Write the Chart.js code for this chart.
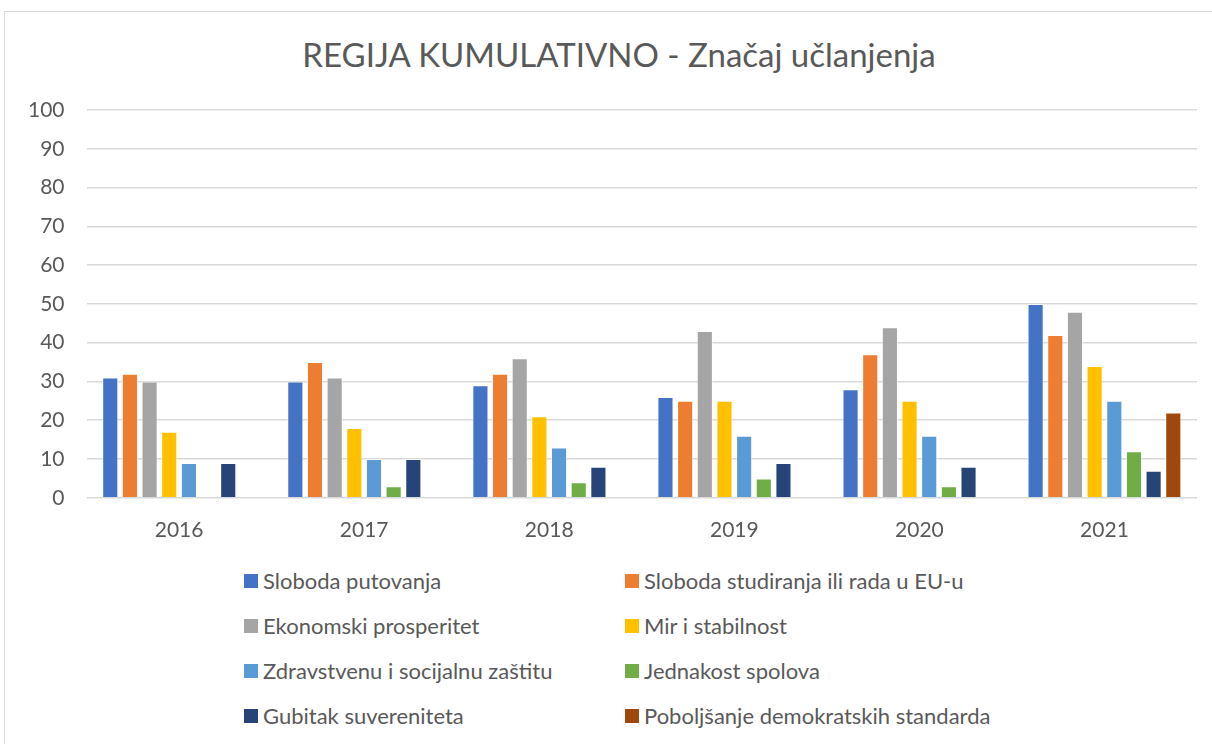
<!DOCTYPE html>
<html>
<head>
  <meta charset="utf-8">
  <title>REGIJA KUMULATIVNO - Značaj učlanjenja</title>
  <script src="https://cdn.jsdelivr.net/npm/chart.js"></script>
  <style>
    body {
      margin: 0;
      background: #fff;
      font-family: Lato, "Open Sans", sans-serif;
    }
    .frame {
      position: absolute;
      left: 4px;
      top: 11px;
      width: 1230px;
      height: 760px;
      border: 1px solid #d9d9d9;
    }
    .title {
      position: absolute;
      left: 0;
      top: 35px;
      width: 1238px;
      text-align: center;
      font-size: 33px;
      line-height: 1.2;
      color: #595959;
    }
    .chart-box {
      position: absolute;
      left: 0;
      top: 0;
      width: 1212px;
      height: 555px;
    }
    #legend {
      position: absolute;
      left: 244px;
      top: 558px;
      display: grid;
      grid-template-columns: 381px 400px;
    }
    .item {
      height: 45px;
      display: flex;
      align-items: center;
      font-size: 22px;
      color: #595959;
    }
    .swatch {
      width: 14px;
      height: 14px;
      margin-right: 5px;
    }
  </style>
</head>
<body>
  <div class="frame"></div>
  <div class="title">REGIJA KUMULATIVNO - Značaj učlanjenja</div>
  <div class="chart-box"><canvas id="chart"></canvas></div>
  <div id="legend"></div>

  <script>
    const years = ['2016', '2017', '2018', '2019', '2020', '2021'];

    const slobodaPutovanja = [31, 30, 29, 26, 28, 50];
    const slobodaStudiranja = [32, 35, 32, 25, 37, 42];
    const ekonomski = [30, 31, 36, 43, 44, 48];
    const mirStabilnost = [17, 18, 21, 25, 25, 34];
    const zdravstvenu = [9, 10, 13, 16, 16, 25];
    const jednakost = [null, 3, 4, 5, 3, 12];
    const gubitak = [9, 10, 8, 9, 8, 7];
    const poboljsanje = [null, null, null, null, null, 22];

    const seriesNames = [
      'Sloboda putovanja',
      'Sloboda studiranja ili rada u EU-u',
      'Ekonomski prosperitet',
      'Mir i stabilnost',
      'Zdravstvenu i socijalnu zaštitu',
      'Jednakost spolova',
      'Gubitak suvereniteta',
      'Poboljšanje demokratskih standarda'
    ];
    const seriesData = [slobodaPutovanja, slobodaStudiranja, ekonomski, mirStabilnost,
      zdravstvenu, jednakost, gubitak, poboljsanje];
    const colors = ['#4472c4', '#ed7d31', '#a5a5a5', '#ffc000', '#5b9bd5', '#70ad47', '#264478', '#9e480e'];

    const yTicks = [0, 10, 20, 30, 40, 50, 60, 70, 80, 90, 100];

    const datasets = seriesNames.map((name, i) => ({
      label: name,
      data: seriesData[i],
      backgroundColor: colors[i],
      borderColor: 'rgba(255,255,255,0.6)',
      borderWidth: 1,
      categoryPercentage: 0.85,
      barPercentage: 0.82
    }));

    new Chart(document.getElementById('chart'), {
      type: 'bar',
      data: { labels: years, datasets },
      options: {
        responsive: true,
        maintainAspectRatio: false,
        animation: false,
        layout: { padding: { left: 6, right: 15, top: 110, bottom: 0 } },
        plugins: {
          legend: { display: false },
          tooltip: { enabled: false }
        },
        scales: {
          x: {
            grid: { display: false },
            border: { display: false },
            ticks: {
              color: '#595959',
              font: { family: 'Lato', size: 21 },
              padding: 12
            }
          },
          y: {
            min: 0,
            max: 100,
            afterBuildTicks: axis => { axis.ticks = yTicks.map(v => ({ value: v })); },
            grid: { color: '#d9d9d9', lineWidth: 1.5, drawTicks: false },
            border: { display: false },
            ticks: {
              color: '#595959',
              font: { family: 'Lato', size: 21 },
              padding: 22
            }
          }
        }
      }
    });

    const legend = document.getElementById('legend');
    seriesNames.forEach((name, i) => {
      const item = document.createElement('div');
      item.className = 'item';
      item.innerHTML = '<span class="swatch" style="background:' + colors[i] + '"></span>' + name;
      legend.appendChild(item);
    });
  </script>
</body>
</html>
